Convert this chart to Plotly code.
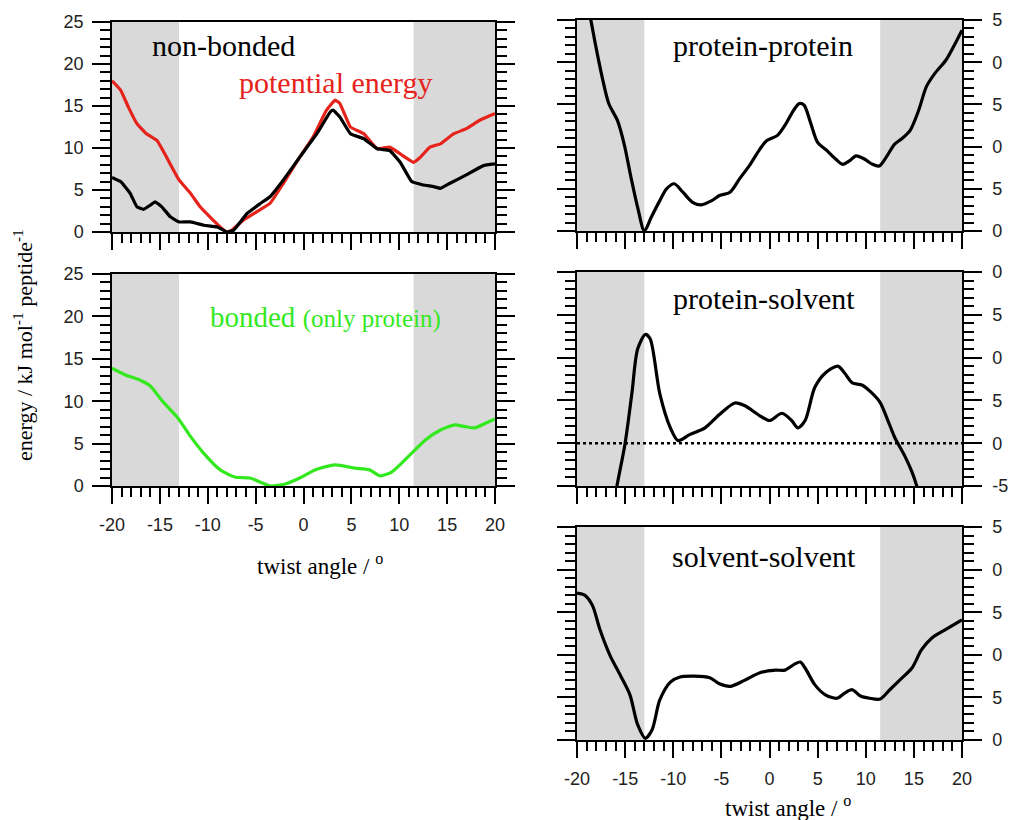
import plotly.graph_objects as go

# ---------------- data ----------------
# non-bonded panel
pot_x = [-20, -19.1, -18.3, -17.4, -16.4, -15.3, -14.3, -13.0, -11.8, -10.8, -9.6, -8.5, -8.0, -7.5,
         -6.3, -4.9, -3.5, -2.1, -0.4, 1.0, 2.4, 3.3, 3.8, 4.9, 6.3, 7.7, 9.0, 10.1, 11.5, 12.2,
         13.2, 14.3, 15.7, 17.0, 18.4, 20]
pot_y = [18.0, 16.9, 14.9, 12.9, 11.7, 10.9, 8.9, 6.2, 4.6, 3.0, 1.6, 0.4, 0.0, 0.2,
         1.4, 2.4, 3.4, 5.8, 8.9, 11.3, 14.5, 15.7, 15.3, 12.5, 11.7, 9.9, 10.1, 9.3, 8.3, 8.9,
         10.1, 10.5, 11.7, 12.3, 13.3, 14.1]

nb_x = [-20, -19.1, -18.1, -17.4, -16.7, -16.0, -15.5, -14.8, -13.9, -13.0, -11.8, -10.4, -9.0,
        -8.0, -7.3, -5.9, -4.5, -3.5, -2.1, -0.4, 1.4, 2.8, 3.1, 3.8, 4.9, 6.3, 7.7, 9.0, 10.1,
        11.3, 12.5, 13.6, 14.3, 15.3, 17.0, 18.8, 20]
nb_y = [6.5, 6.0, 4.6, 3.0, 2.7, 3.2, 3.6, 3.0, 1.8, 1.2, 1.2, 0.8, 0.6,
        0.0, 0.2, 2.2, 3.4, 4.2, 6.2, 8.9, 11.7, 14.3, 14.5, 13.7, 11.7, 11.1, 9.9, 9.7, 8.3,
        6.0, 5.6, 5.4, 5.2, 5.8, 6.8, 7.9, 8.1]

# bonded panel
bond_x = [-20, -18.6, -17.1, -16.0, -14.8, -13.1, -11.9, -10.3, -8.7, -7.2, -5.6, -4.3, -3.5,
          -1.9, -0.4, 1.2, 3.3, 5.4, 6.9, 8.0, 9.2, 11.1, 12.7, 14.3, 15.8, 16.9, 17.9, 19.0, 20]
bond_y = [13.9, 13.1, 12.5, 11.8, 10.1, 8.0, 6.0, 3.7, 1.9, 1.06, 0.94, 0.35, 0.0,
          0.24, 0.94, 1.9, 2.5, 2.1, 1.9, 1.2, 1.65, 3.65, 5.4, 6.6, 7.2, 7.0, 6.85, 7.4, 7.9]

# protein-protein panel
pp_x = [-20, -19.2, -18.6, -18.1, -17.4, -16.7, -15.8, -15.1, -14.4, -13.7, -13.0, -12.3, -11.4,
        -10.7, -9.9, -9.0, -8.0, -7.1, -6.0, -5.2, -4.1, -3.1, -2.0, -1.0, -0.3, 0.8, 1.7, 2.5,
        3.1, 3.6, 4.3, 5.0, 6.0, 6.9, 7.6, 8.3, 9.0, 9.9, 10.7, 11.4, 12.1, 13.0, 13.7, 14.6,
        15.5, 16.3, 17.2, 18.3, 19.1, 20]
pp_y = [32.0, 28.0, 25.2, 22.2, 18.3, 15.1, 13.1, 10.3, 6.4, 2.8, 0.0, 1.6, 3.6,
        5.0, 5.6, 4.6, 3.4, 3.1, 3.6, 4.2, 4.6, 6.2, 7.9, 9.7, 10.7, 11.3, 12.7, 14.3,
        15.1, 14.9, 12.7, 10.5, 9.5, 8.5, 7.9, 8.3, 8.9, 8.5, 7.9, 7.7, 8.7, 10.3, 10.9, 11.9,
        14.3, 17.1, 18.7, 20.2, 21.8, 23.8]

# protein-solvent panel
ps_x = [-16.6, -15.85, -15.0, -14.3, -13.7, -12.9, -12.4, -11.4, -10.3, -9.5, -8.3, -6.7, -5.2,
        -3.6, -2.6, -1.0, 0.0, 1.3, 2.3, 2.95, 3.7, 4.7, 5.8, 7.1, 7.8, 8.6, 9.6, 10.6, 11.5,
        12.3, 13.0, 14.1, 14.8, 15.3, 16.0]
ps_y = [-10.0, -5.0, 0.0, 5.8, 11.0, 12.7, 12.2, 5.8, 1.8, 0.3, 1.0, 1.8, 3.35,
        4.7, 4.4, 3.2, 2.65, 3.5, 2.65, 1.8, 2.65, 6.5, 8.2, 9.0, 8.2, 7.05, 6.8, 5.9, 4.75,
        2.65, 0.7, -1.6, -3.35, -5.0, -8.0]

# solvent-solvent panel
ss_x = [-20, -19.2, -18.4, -17.6, -16.6, -15.5, -14.5, -13.7, -12.9, -12.2, -11.4, -10.3, -9.3,
        -7.8, -6.2, -5.2, -4.1, -2.6, -1.0, 0.6, 1.6, 2.6, 3.2, 3.7, 4.7, 5.8, 7.0, 7.8, 8.6,
        9.4, 10.4, 11.5, 12.5, 13.5, 14.8, 15.8, 16.9, 18.2, 20]
ss_y = [17.25, 17.0, 15.8, 12.9, 10.0, 7.6, 5.3, 1.8, 0.2, 1.2, 4.7, 6.8, 7.4,
        7.5, 7.3, 6.6, 6.3, 7.0, 7.9, 8.2, 8.2, 8.9, 9.15, 8.45, 6.5, 5.3, 4.9, 5.5, 5.9,
        5.2, 4.9, 4.8, 5.9, 7.0, 8.45, 10.6, 12.0, 12.9, 14.1]

# shaded angle ranges
shade_ranges = [(-20, -13), (11.5, 20)]

x_ticks = [-20, -15, -10, -5, 0, 5, 10, 15, 20]
x_ticktext = ["-20", "-15", "-10", "-5", "0", "5", "10", "15", "20"]
y_ticks = [0, 5, 10, 15, 20, 25]
y_ticks_ps = [-5, 0, 5, 10, 15, 20]
left_ticktext = ["0", "5", "10", "15", "20", "25"]
right_ticktext = ["0", "5", "0", "5", "0", "5"]
right_ticktext_ps = ["-5", "0", "5", "0", "5", "0"]

# ---------------- figure ----------------
W, H = 1011, 820
BLACK = "#000000"
RED = "#e5231b"
GREEN = "#33e81f"
GRAY = "#d9d9d9"
SANS = "Liberation Sans, Arial, sans-serif"
SERIF = "Liberation Serif, Times New Roman, serif"

fig = go.Figure()

panels = [
    # (xaxis, yaxis, xdomain, ydomain, yrange, side, show_x_labels)
    ("x", "y", [112 / W, 495 / W], [1 - 232 / H, 1 - 22 / H], [0, 25], "left", False),
    ("x2", "y2", [112 / W, 495 / W], [1 - 486 / H, 1 - 274 / H], [0, 25], "left", True),
    ("x3", "y3", [577 / W, 962 / W], [1 - 231 / H, 1 - 20 / H], [0, 25], "right", False),
    ("x4", "y4", [577 / W, 962 / W], [1 - 486 / H, 1 - 272 / H], [-5, 20], "right", False),
    ("x5", "y5", [577 / W, 962 / W], [1 - 740 / H, 1 - 527 / H], [0, 25], "right", True),
]

for i, (xa, ya, xd, yd, yr, side, showx) in enumerate(panels):
    xl = "xaxis" if xa == "x" else "xaxis" + xa[1:]
    yl = "yaxis" if ya == "y" else "yaxis" + ya[1:]
    fig.layout[xl] = dict(
        domain=xd, range=[-20, 20], anchor=ya, tickmode="array", tickvals=x_ticks,
        ticktext=x_ticktext,
        showticklabels=showx, ticks="outside", ticklen=16, tickwidth=1.5, tickcolor=BLACK,
        minor=dict(dtick=1, tick0=0, ticks="outside", ticklen=9, tickwidth=1.5, tickcolor=BLACK,
                   showgrid=False),
        showline=True, linecolor=BLACK, linewidth=1.5, mirror=True, showgrid=False,
        zeroline=False, ticklabelstandoff=6, automargin=False,
        tickfont=dict(family=SANS, size=18, color="#222222"), fixedrange=True,
    )
    if side == "left":
        tv, tt = y_ticks, left_ticktext
    elif yr[0] == -5:
        tv, tt = y_ticks_ps, right_ticktext_ps
    else:
        tv, tt = y_ticks, right_ticktext
    fig.layout[yl] = dict(
        domain=yd, range=yr, anchor=xa, side=side, tickmode="array", tickvals=tv, ticktext=tt,
        ticks="outside", ticklen=18, tickwidth=1.5, tickcolor=BLACK,
        minor=dict(dtick=1, tick0=0, ticks="outside", ticklen=10, tickwidth=1.5, tickcolor=BLACK,
                   showgrid=False),
        showline=True, linecolor=BLACK, linewidth=1.5, mirror="allticks", showgrid=False,
        zeroline=False, ticklabelstandoff=5 if side == "left" else 7, automargin=False,
        tickfont=dict(family=SANS, size=18, color="#222222"), fixedrange=True,
    )
    for (a, b) in shade_ranges:
        fig.add_shape(type="rect", xref=xa, yref=ya + " domain", x0=a, x1=b, y0=0, y1=1,
                      fillcolor=GRAY, line=dict(width=0), layer="below")

def add_line(x, y, xa, ya, color, smooth=0.6):
    fig.add_trace(go.Scatter(x=x, y=y, xaxis=xa, yaxis=ya, mode="lines",
                             line=dict(color=color, width=3.2, shape="spline", smoothing=smooth),
                             showlegend=False, hoverinfo="skip"))

add_line(pot_x, pot_y, "x", "y", RED, 0.3)
add_line(nb_x, nb_y, "x", "y", BLACK, 0.3)
add_line(bond_x, bond_y, "x2", "y2", GREEN, 0.6)
add_line(pp_x, pp_y, "x3", "y3", BLACK, 0.8)
fig.add_trace(go.Scatter(x=[-20, 20], y=[0, 0], xaxis="x4", yaxis="y4", mode="lines",
                         line=dict(color=BLACK, width=2.5, dash="dot"), showlegend=False,
                         hoverinfo="skip"))
add_line(ps_x, ps_y, "x4", "y4", BLACK, 0.8)
add_line(ss_x, ss_y, "x5", "y5", BLACK, 0.8)

def ann(text, x, y, size, color=BLACK, family=SERIF, xanchor="center", yanchor="middle",
        angle=0):
    fig.add_annotation(text=text, x=x / W, y=1 - y / H, xref="paper", yref="paper",
                       showarrow=False, xanchor=xanchor, yanchor=yanchor, textangle=angle,
                       font=dict(family=family, size=size, color=color))

ann("non-bonded", 150, 45, 30, xanchor="left")
ann("potential energy", 237, 83, 30, color=RED, xanchor="left")
ann("bonded <span style='font-size:25px'>(only protein)</span>", 208, 317, 29, color=GREEN,
    xanchor="left")
ann("protein-protein", 763, 45, 30)
ann("protein-solvent", 764, 298, 30)
ann("solvent-solvent", 764, 556, 30)
ann("energy / kJ mol<sup>-1</sup> peptide<sup>-1</sup>", 23, 345, 22, angle=-90)
ann("twist angle / <sup>o</sup>", 320, 564, 23)
ann("twist angle / <sup>o</sup>", 788, 806, 23)

fig.update_layout(width=W, height=H, margin=dict(l=0, r=0, t=0, b=0, autoexpand=False),
                  plot_bgcolor="white", paper_bgcolor="white", showlegend=False)

fig.write_html("out.html")
